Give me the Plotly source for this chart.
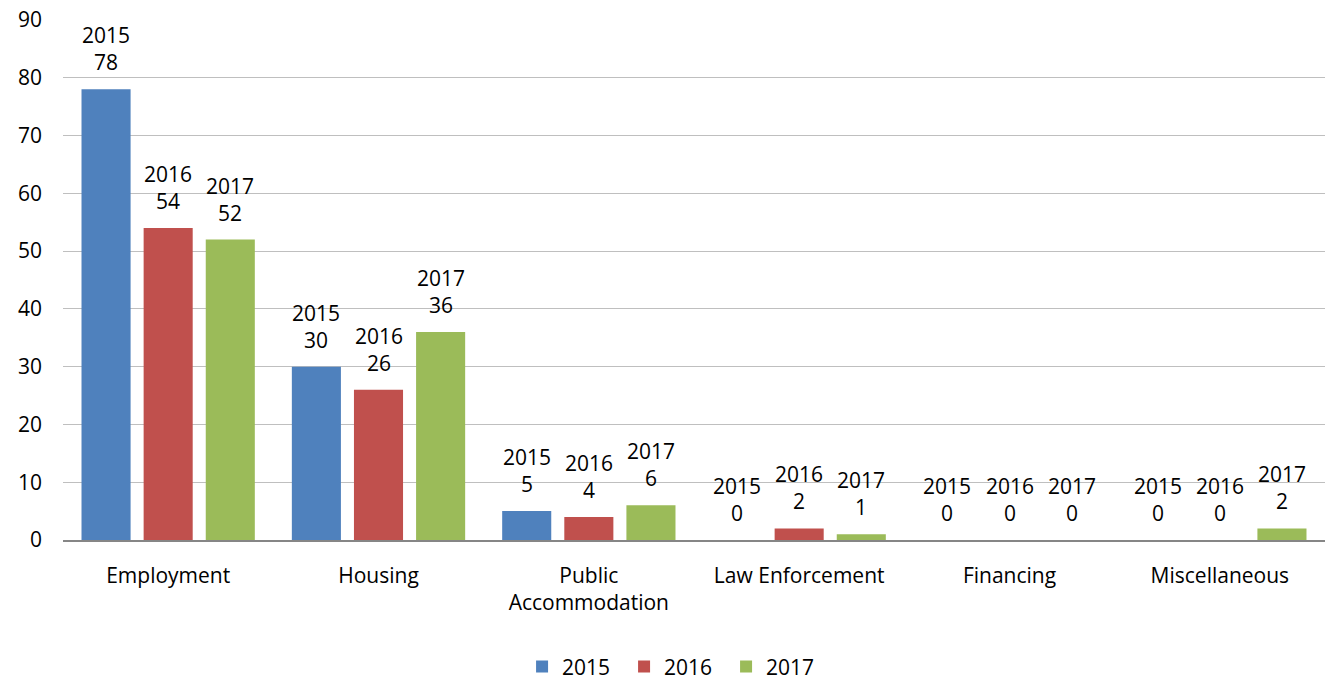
import plotly.graph_objects as go

categories = ["Employment", "Housing", "Public<br>Accommodation", "Law Enforcement", "Financing", "Miscellaneous"]
years = ["2015", "2016", "2017"]
v2015 = [78, 30, 5, 0, 0, 0]
v2016 = [54, 26, 4, 2, 0, 0]
v2017 = [52, 36, 6, 1, 0, 2]
colors = ["#4f81bd", "#c0504d", "#9bbb59"]

W, H = 1325, 681
ML, MR, MT, MB = 63, 0, 20, 141
BARGAP, GROUPGAP = 0.114, 0.21
FONT = "Open Sans, sans-serif"
FS = 21

plot_w = W - ML - MR
slot = plot_w / len(categories) * (1 - BARGAP) / len(years)

fig = go.Figure()
annotations = []
for i, (name, vals, c) in enumerate(zip(years, [v2015, v2016, v2017], colors)):
    fig.add_trace(go.Bar(
        x=categories, y=vals, name=name, marker_color=c,
        marker_line_width=0,
    ))
    for cat, v in zip(categories, vals):
        annotations.append(dict(
            x=cat, y=v, xref="x", yref="y", text=f"{name}<br>{v}",
            showarrow=False, xanchor="center", yanchor="bottom",
            xshift=(i - 1) * slot, yshift=11,
            font=dict(family=FONT, size=FS, color="#000000"),
        ))

fig.update_layout(
    width=W, height=H,
    margin=dict(l=ML, r=MR, t=MT, b=MB),
    plot_bgcolor="white", paper_bgcolor="white",
    font=dict(family=FONT, size=FS, color="#000000"),
    barmode="group", bargap=BARGAP, bargroupgap=GROUPGAP,
    showlegend=True,
    legend=dict(orientation="h", xref="paper", x=0.485, xanchor="center",
                yref="container", y=0.0206, yanchor="middle",
                font=dict(size=FS), entrywidth=57, entrywidthmode="pixels", itemwidth=30),
    annotations=annotations,
)
fig.update_yaxes(range=[0, 90], dtick=10, showgrid=True, gridcolor="#bfbfbf", gridwidth=1,
                 zeroline=False, showline=False, ticks="", automargin=False,
                 ticklabelstandoff=20)
fig.update_xaxes(showline=True, linecolor="#868686", linewidth=1.5, ticks="",
                 automargin=False, ticklabelstandoff=16)

fig.write_html("out.html", config={"displayModeBar": False},
               post_script="document.body.style.margin='0';document.body.style.padding='0';")
